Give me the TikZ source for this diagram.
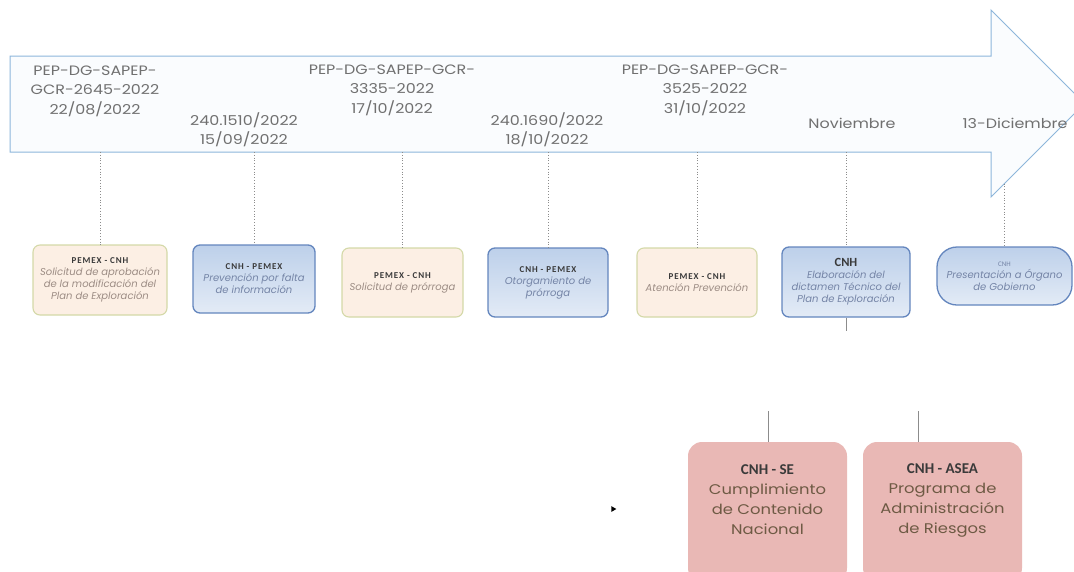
\documentclass[tikz,border=0pt]{standalone}
\usepackage{fontspec}
\setmainfont{Poppins}
\newfontfamily\widefont[FakeStretch=1.17,Numbers=Proportional]{Poppins}
\newfontfamily\boxfont{Carlito}
\newfontfamily\boxtitle[LetterSpace=10]{Carlito}
\usetikzlibrary{shapes.geometric}
\definecolor{arrowline}{HTML}{8DB6DB}
\definecolor{arrowfill}{HTML}{FAFCFE}
\definecolor{datetext}{HTML}{707070}
\definecolor{peachfill}{HTML}{FCEFE4}
\definecolor{peachline}{HTML}{D4D9A8}
\definecolor{bluetop}{HTML}{BDD0EA}
\definecolor{bluebot}{HTML}{E3EBF6}
\definecolor{blueline}{HTML}{6486BE}
\definecolor{pinkfill}{HTML}{E9B8B5}
\definecolor{titletext}{HTML}{3A3A3A}
\definecolor{peachbody}{HTML}{9C8C84}
\definecolor{bluebody}{HTML}{7484A6}
\definecolor{pinkbody}{HTML}{6E5A44}
\definecolor{conn}{HTML}{8C8C8C}
\begin{document}
\begin{tikzpicture}[x=1pt,y=-1pt,
  datelabel/.style={text=datetext,font=\widefont\fontsize{13.6}{19.5}\selectfont,align=center,inner sep=0pt},
  peachbox/.style={draw=peachline,line width=1.1pt,fill=peachfill,rounded corners=7pt,align=center,inner sep=2pt},
  bluebox/.style={draw=blueline,line width=1.3pt,top color=bluetop,bottom color=bluebot,rounded corners=7pt,align=center,inner sep=2pt},
  pinkbox/.style={fill=pinkfill,rounded corners=14pt,align=center,inner sep=2pt},
  dotline/.style={draw=conn,line width=0.8pt,dotted},
  solidline/.style={draw=conn,line width=0.8pt}]
\useasboundingbox (0,0) rectangle (1074,571);
\fill[white] (0,0) rectangle (1074,571);
% arrow
\draw[arrowline,fill=arrowfill,line width=1pt,line join=miter]
  (10,56) -- (991,56) -- (991,10) -- (1084.5,103.5) -- (991,197) -- (991,152) -- (10,152) -- cycle;
\coordinate (ab) at (0,152);
\coordinate (t7) at (1004.5,183.5);
% date labels
\node[datelabel] (d1) at (95,91) {PEP-DG-SAPEP-\\GCR-2645-2022\\22/08/2022};
\node[datelabel] (d2) at (244,129.5) {240.1510/2022\\15/09/2022};
\node[datelabel] (d3) at (392,90) {PEP-DG-SAPEP-GCR-\\3335-2022\\17/10/2022};
\node[datelabel] (d4) at (547,129.5) {240.1690/2022\\18/10/2022};
\node[datelabel] (d5) at (705,90) {PEP-DG-SAPEP-GCR-\\3525-2022\\31/10/2022};
\node[datelabel] (d6) at (852,123) {Noviembre};
\node[datelabel] (d7) at (1015,123) {13-Diciembre};
% row 1 boxes
\node[peachbox,minimum width=134pt,minimum height=70pt] (b1) at (100,280)
  {\boxfont\fontsize{7}{14.5}\selectfont{\boxtitle\bfseries\fontsize{9}{14.5}\selectfont\color{titletext}PEMEX - CNH}\\\color{peachbody}\itshape Solicitud de aprobación\\\color{peachbody}\itshape de la modificación del\\\color{peachbody}\itshape Plan de Exploración};
\node[bluebox,minimum width=122pt,minimum height=68pt] (b2) at (254,279)
  {\boxfont\fontsize{7}{13}\selectfont{\boxtitle\bfseries\fontsize{9}{13}\selectfont\color{titletext}CNH - PEMEX}\\\color{bluebody}\itshape Prevención por falta\\\color{bluebody}\itshape de información};
\node[peachbox,minimum width=121pt,minimum height=69pt] (b3) at (402.5,282.5)
  {\boxfont\fontsize{7}{14}\selectfont{\boxtitle\bfseries\fontsize{9}{14}\selectfont\color{titletext}PEMEX - CNH}\\\color{peachbody}\itshape Solicitud de prórroga};
\node[bluebox,minimum width=120pt,minimum height=69pt] (b4) at (548,282.5)
  {\boxfont\fontsize{7}{13}\selectfont{\boxtitle\bfseries\fontsize{9}{13}\selectfont\color{titletext}CNH - PEMEX}\\\color{bluebody}\itshape Otorgamiento de\\\color{bluebody}\itshape prórroga};
\node[peachbox,minimum width=120pt,minimum height=69pt] (b5) at (697,282.5)
  {\boxfont\fontsize{7}{14}\selectfont{\boxtitle\bfseries\fontsize{9}{14}\selectfont\color{titletext}PEMEX - CNH}\\\color{peachbody}\itshape Atención Prevención};
\node[bluebox,minimum width=128pt,minimum height=70pt] (b6) at (846,282)
  {\boxfont\fontsize{7}{13}\selectfont{\fontsize{12.5}{14}\selectfont\bfseries\color{titletext}CNH}\\\color{bluebody}\itshape Elaboración del\\\color{bluebody}\itshape dictamen Técnico del\\\color{bluebody}\itshape Plan de Exploración};
\node[bluebox,rounded corners=20pt,minimum width=135pt,minimum height=58pt] (b7) at (1004.5,276)
  {\boxfont\fontsize{7}{11}\selectfont{\color{bluebody}CNH}\\\color{bluebody}\itshape Presentación a Órgano\\\color{bluebody}\itshape de Gobierno};
% connectors row 1
\foreach \b in {b1,b2,b3,b4,b5,b6}{\draw[dotline] (\b.north |- ab) -- (\b.north);}
\draw[dotline] (t7) -- (b7.north);
\coordinate (c6) at (846,331);
\draw[solidline] (b6.south) -- (c6);
% row 2
\node[pinkbox,minimum width=159pt,minimum height=140pt] (p1) at (767.5,512) {};
\node[pinkbox,minimum width=159pt,minimum height=140pt] (p2) at (942.5,512) {};
\node[align=center,inner sep=0pt,font=\widefont\fontsize{14}{20}\selectfont,text=pinkbody] (p1t) at (767.5,500)
  {{\boxfont\bfseries\fontsize{15}{20}\selectfont\color{titletext}CNH - SE}\\Cumplimiento\\de Contenido\\Nacional};
\node[align=center,inner sep=0pt,font=\widefont\fontsize{14}{20}\selectfont,text=pinkbody] (p2t) at (942.5,500)
  {{\boxfont\bfseries\fontsize{15}{20}\selectfont\color{titletext}CNH - ASEA}\\Programa de\\Administración\\de Riesgos};
\coordinate (u1) at (768,411);
\coordinate (u2) at (918,411);
\draw[solidline] (u1) -- (u1 |- p1.north);
\draw[solidline] (u2) -- (u2 |- p2.north);
% small marker
\node[fill=black,isosceles triangle,isosceles triangle apex angle=60,inner sep=0pt,minimum size=5pt] (m) at (613,509) {};
\end{tikzpicture}
\end{document}
